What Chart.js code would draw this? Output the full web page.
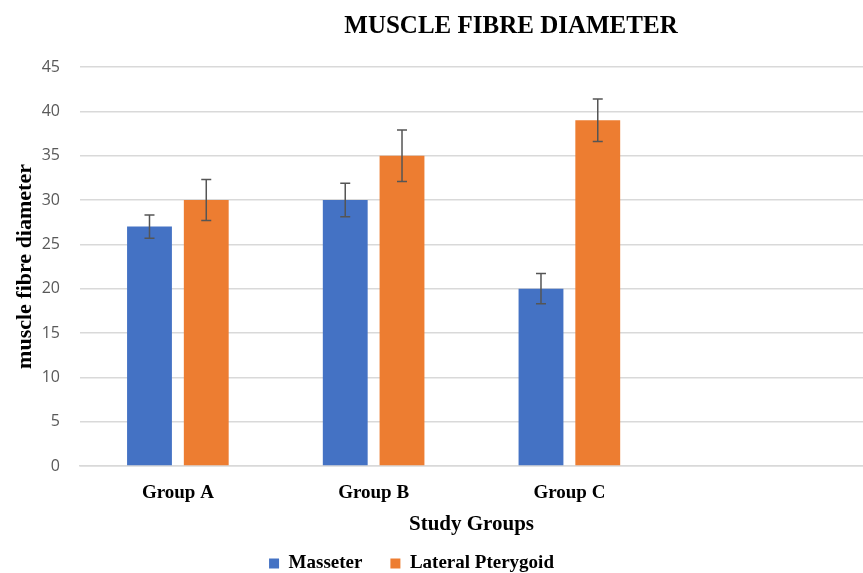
<!DOCTYPE html>
<html>
<head>
<meta charset="utf-8">
<script src="https://cdn.jsdelivr.net/npm/chart.js@4/dist/chart.umd.min.js"></script>
<style>
    html, body { margin: 0; padding: 0; background: #fff; }
    #wrap { width: 863px; height: 573px; }
</style>
</head>
<body>
<div id="wrap"><canvas id="muscle_canvas"></canvas></div>
<script>
// values
const groups = ["Group A", "Group B", "Group C", ""];
const masseter = [27, 30, 20, null];
const masseter_err = [1.3, 1.9, 1.7, null];
const pterygoid = [30, 35, 39, null];
const pterygoid_err = [2.3, 2.9, 2.4, null];
const y_ticks = [0, 5, 10, 15, 20, 25, 30, 35, 40, 45];

const serif = "'Liberation Serif', 'DejaVu Serif', serif";

// draws the +/- error whiskers through the chart scales
const error_bars = {
    id: 'error_bars',
    afterDatasetsDraw(chart) {
        const ctx = chart.ctx;
        const y = chart.scales.y;
        chart.data.datasets.forEach((ds, i) => {
            const meta = chart.getDatasetMeta(i);
            meta.data.forEach((bar, j) => {
                const v = ds.data[j];
                const e = ds.errors[j];
                if (v == null || e == null) {
                    return;
                }
                const top = y.getPixelForValue(v + e);
                const bottom = y.getPixelForValue(v - e);
                ctx.save();
                ctx.strokeStyle = '#555555';
                ctx.lineWidth = 1.5;
                ctx.beginPath();
                ctx.moveTo(bar.x, top);
                ctx.lineTo(bar.x, bottom);
                ctx.moveTo(bar.x - 5, top);
                ctx.lineTo(bar.x + 5, top);
                ctx.moveTo(bar.x - 5, bottom);
                ctx.lineTo(bar.x + 5, bottom);
                ctx.stroke();
                ctx.restore();
            });
        });
    }
};

// title sits right of the canvas centre in the original
const title_text = {
    id: 'title_text',
    afterDraw(chart) {
        const ctx = chart.ctx;
        ctx.save();
        ctx.font = "bold 25px " + serif;
        ctx.fillStyle = '#000';
        ctx.textAlign = 'center';
        ctx.textBaseline = 'middle';
        ctx.fillText("MUSCLE FIBRE DIAMETER", 511, 27);
        ctx.restore();
    }
};

// wide gaps between legend items, less space under them,
// and the whole legend a bit left of centre like the original
const tight_legend = {
    id: 'tight_legend',
    afterInit(chart) {
        const legend = chart.legend;
        const fit = legend.fit;
        const draw = legend.draw;
        legend.fit = function () {
            fit.call(this);
            this.height -= 10;
        };
        legend.draw = function () {
            const right = this.right;
            this.right -= 40;
            draw.call(this);
            this.right = right;
        };
    }
};

let data = {
    labels: groups,
    datasets: [
        {
            label: "Masseter",
            data: masseter,
            errors: masseter_err,
            backgroundColor: "#4472C4",
            categoryPercentage: 0.58,
            barPercentage: 0.79
        },
        {
            label: "Lateral Pterygoid",
            data: pterygoid,
            errors: pterygoid_err,
            backgroundColor: "#ED7D31",
            categoryPercentage: 0.58,
            barPercentage: 0.79
        }
    ]
};

let config = {
    type: 'bar',
    data: data,
    options: {
        responsive: true,
        maintainAspectRatio: false,
        animation: false,
        layout: {
            padding: { top: 67, left: 0, right: 0, bottom: 0 }
        },
        plugins: {
            legend: {
                position: 'bottom',
                labels: {
                    boxWidth: 10,
                    boxHeight: 10,
                    color: '#000',
                    padding: 28,
                    font: { family: serif, size: 19, weight: 'bold' }
                }
            },
            tooltip: { enabled: false }
        },
        scales: {
            x: {
                grid: { display: false, drawTicks: false },
                border: { color: '#d9d9d9', width: 1.5 },
                ticks: {
                    color: '#000',
                    padding: 16,
                    font: { family: serif, size: 19, weight: 'bold' }
                },
                title: {
                    display: true,
                    text: "Study Groups",
                    color: '#000',
                    padding: { top: -9, bottom: -11 },
                    font: { family: serif, size: 21, weight: 'bold' }
                }
            },
            y: {
                min: 0,
                max: 45,
                afterBuildTicks(axis) {
                    axis.ticks = y_ticks.map(v => ({ value: v }));
                },
                afterFit(axis) {
                    axis.width = 80;
                },
                grid: { color: '#d9d9d9', lineWidth: 1.5, drawTicks: false },
                border: { display: false },
                ticks: {
                    color: '#595959',
                    padding: 20,
                    font: { family: "'Open Sans', sans-serif", size: 16 }
                },
                title: {
                    display: true,
                    text: "muscle fibre diameter",
                    color: '#000',
                    padding: { top: 12, bottom: 0 },
                    font: { family: serif, size: 22, weight: 'bold' }
                }
            }
        }
    },
    plugins: [error_bars, title_text, tight_legend]
};

let muscle_plot = new Chart(document.getElementById('muscle_canvas'), config);
</script>
</body>
</html>
